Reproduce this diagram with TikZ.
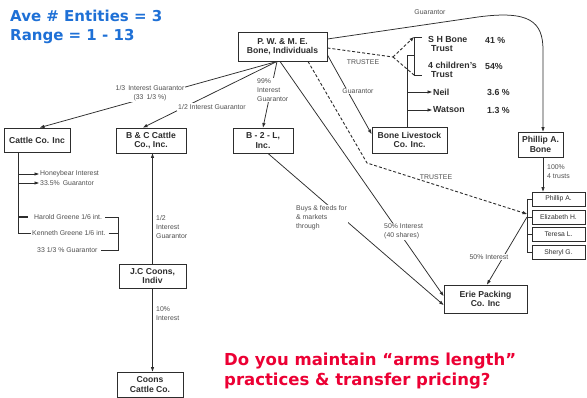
\documentclass[tikz,border=0pt]{standalone}
\usepackage{fontspec}
\setmainfont{Liberation Sans}
\newfontfamily\dvfont{DejaVu Sans}
\usetikzlibrary{arrows.meta}
\definecolor{ttlblue}{RGB}{30,112,214}
\definecolor{qred}{RGB}{236,0,52}
\definecolor{ink}{RGB}{45,45,45}
\definecolor{lbl}{RGB}{80,80,80}
\begin{document}
\begin{tikzpicture}[x=1pt,y=-1pt,
 box/.style={draw=ink, line width=0.9pt, fill=white, text=ink, font=\bfseries\fontsize{8.6}{9.6}\selectfont, align=center, inner sep=0pt},
 tbox/.style={box, line width=0.7pt, font=\fontsize{6.8}{7}\selectfont, minimum width=53pt, minimum height=14pt},
 lab/.style={text=lbl, font=\fontsize{6.9}{9}\selectfont, inner sep=1pt},
 wlab/.style={lab, fill=white},
 tlab/.style={text=ink, font=\bfseries\fontsize{8.8}{9}\selectfont, inner sep=1pt, align=left},
 conn/.style={draw=ink, line width=0.75pt},
 arr/.style={conn, -{Triangle[length=4.5pt,width=3pt]}},
 dsh/.style={conn, dash pattern=on 3pt off 2pt, line width=0.9pt},
]
\useasboundingbox (0,0) rectangle (587,398);
\fill[white] (0,0) rectangle (587,398);

% titles
\node[anchor=north west, text=ttlblue, font=\dvfont\bfseries\fontsize{15}{18.5}\selectfont, align=left, inner sep=0pt] (ttl) at (10,10) {Ave \# Entities = 3\\Range = 1 - 13};
\node[anchor=north west, text=qred, font=\dvfont\bfseries\fontsize{16.5}{20}\selectfont, align=left, inner sep=0pt] (qst) at (224,353) {Do you maintain “arms length”\\practices \& transfer pricing?};

% boxes
\node[box, minimum width=89pt, minimum height=29pt] (pw) at (282.5,46.5) {P. W. \& M. E.\\Bone, Individuals};
\node[box, minimum width=66pt, minimum height=24pt] (cattle) at (37,140) {Cattle Co. Inc};
\node[box, minimum width=70pt, minimum height=25pt] (bc) at (151,140.5) {B \& C Cattle\\Co., Inc.};
\node[box, minimum width=60pt, minimum height=25pt] (b2l) at (263,140.5) {B - 2 - L,\\Inc.};
\node[box, minimum width=75pt, minimum height=26pt] (bl) at (409.5,140) {Bone Livestock\\Co. Inc.};
\node[box, minimum width=45pt, minimum height=25pt] (pab) at (540.5,144.5) {Phillip A.\\Bone};
\node[tbox] (phA) at (558.5,199) {Phillip A.};
\node[tbox] (eli) at (558.5,217) {Elizabeth H.};
\node[tbox] (ter) at (558.5,234.5) {Teresa L.};
\node[tbox] (she) at (558.5,252.5) {Sheryl G.};
\node[box, minimum width=83pt, minimum height=28pt] (erie) at (485.5,299) {Erie Packing\\Co. Inc};
\node[box, minimum width=67pt, minimum height=24pt] (jc) at (152.5,276) {J.C Coons,\\Indiv};
\node[box, minimum width=66pt, minimum height=25pt] (coons) at (150,384.5) {Coons\\Cattle Co.};

% trusts at top
\node[tlab, anchor=north west] (shb) at (427,35) {S H Bone\\\hspace{3pt}Trust};
\node[tlab, anchor=north west] (chl) at (427,61) {4 children's\\\hspace{3pt}Trust};
\node[tlab, anchor=west] (neil) at (432,92) {Neil};
\node[tlab, anchor=west] (wat) at (432,110) {Watson};
\node[tlab, anchor=west] (p41) at (484,40) {41 \%};
\node[tlab, anchor=west] (p54) at (484,66) {54\%};
\node[tlab, anchor=west] (p36) at (486,92) {3.6 \%};
\node[tlab, anchor=west] (p13) at (486,110) {1.3 \%};

\coordinate (split) at (393,57);
\coordinate (brt) at (414,37);
\coordinate (brb) at (414,75);
\coordinate (tj) at (407,55);
\coordinate (nv) at (407,92);
\coordinate (wv) at (407,110);
\draw[conn] (422,37) -- (brt) -- (brb) -- (422,75);
\draw[conn] ([xshift=-2.5pt]bl.north) -- (tj) -- (tj -| brt);
\draw[arr] (nv) -- (neil.west);
\draw[arr] (wv) -- (wat.west);
\draw[dsh] ([yshift=-1.5pt]pw.east) -- (split);
\draw[dsh, -{Triangle[length=4.5pt,width=3pt]}] (split) -- (brt);
\draw[dsh] (split) -- (brb);
\node[lab] (tr1) at (363,62) {TRUSTEE};

% PW links
\draw[arr] ([xshift=-5.5pt]pw.south) -- ([xshift=3pt]cattle.north);
\draw[arr] ([xshift=-5.5pt]pw.south) -- ([xshift=-8pt]bc.north);
\draw[arr] ([xshift=-5.5pt]pw.south) -- (b2l.north);
\draw[arr] ([xshift=-2.5pt]pw.south) -- ([yshift=3pt]erie.west);
\draw[arr] ([yshift=-8.5pt]pw.east) -- ([yshift=6pt]bl.west);
\draw[arr] ([yshift=7.5pt]pw.east) -- (478,17) .. controls (530,10) and (543,22) .. (543,50) -- ([xshift=2.5pt]pab.north);
\draw[dsh, -{Triangle[length=4.5pt,width=3pt]}] ([xshift=25.5pt]pw.south) -- (367,163) -- (527,214);
\draw[arr] ([xshift=5pt]b2l.south) -- ([yshift=-6pt]erie.west);

\node[wlab, align=center] (l13) at (150,93.5) {1/3\, Interest Guarantor\\(33\, 1/3 \%)};
\node[wlab] (l12) at (212,107) {1/2 Interest Guarantor};
\node[wlab, align=left, anchor=west] (l99) at (256,90) {99\%\\Interest\\Guarantor};
\node[wlab] (lg1) at (358,91) {Guarantor};
\node[lab] (lg2) at (430,12) {Guarantor};
\node[lab] (tr2) at (436,177) {TRUSTEE};
\node[wlab, align=left, anchor=west] (lbuy) at (295,218) {Buys \& feeds for\\\& markets\\through};
\node[wlab, align=left, anchor=west] (l50) at (383,231.5) {50\% Interest\\(40 shares)};

% Phillip A. Bone and trusts
\draw[arr] ([xshift=2.5pt]pab.south) -- ([xshift=2.5pt]pab.south |- phA.north);
\node[lab, align=left, anchor=west] (l100) at (546,172) {100\%\\4 trusts};
\coordinate (bx) at (527,0);
\draw[conn] (bx |- phA.west) -- (bx |- she.west);
\foreach \t in {phA,eli,ter,she} \draw[conn] (bx |- \t.west) -- (\t.west);
\coordinate (tb) at (527,217);
\draw[arr] (tb) -- ([xshift=1.5pt]erie.north);
\node[wlab] (l50b) at (489,257) {50\% Interest};

% Cattle Co branch
\coordinate (cv) at ([xshift=-19pt]cattle.south);
\node[lab, anchor=west] (hon) at (39,174) {Honeybear Interest};
\node[lab, anchor=west] (g35) at (39,183) {33.5\%\, Guarantor};
\node[lab, anchor=west] (har) at (33,217) {Harold Greene 1/6 int.};
\node[lab, anchor=west] (ken) at (31,233) {Kenneth Greene 1/6 int.};
\node[lab, anchor=west] (g33) at (36,250) {33 1/3 \% Guarantor};
\draw[conn] (cv) -- (cv |- ken.west) -- (ken.west);
\draw[arr] (cv |- hon.west) -- (hon.west);
\draw[arr] (cv |- g35.west) -- (g35.west);
\draw[conn, line width=1.2pt] (cv |- har.west) -- ++(10,0);
\coordinate (gbx) at (118,0);
\draw[conn] ([xshift=2pt]har.east) -- (gbx |- har.east) -- (gbx |- g33.east) -- ([xshift=2pt]g33.east);
\draw[conn] ([xshift=2pt]ken.east) -- (gbx |- ken.east);

% Coons
\draw[arr] (jc.north) -- (jc.north |- bc.south);
\node[lab, align=left, anchor=west] (l12b) at (155,227) {1/2\\Interest\\Guarantor};
\draw[arr] (jc.south) -- (jc.south |- coons.north);
\node[lab, align=left, anchor=west] (l10) at (155,313.5) {10\%\\Interest};
\end{tikzpicture}
\end{document}
